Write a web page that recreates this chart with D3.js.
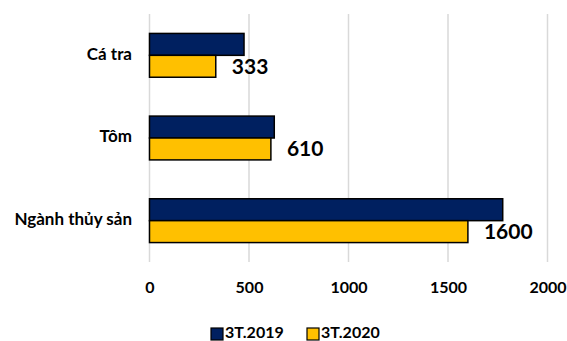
<!DOCTYPE html>
<html><head><meta charset="utf-8">
<script src="https://cdn.jsdelivr.net/npm/d3@7"></script>
<style>body{margin:0;background:#fff}svg{display:block;font-family:Lato,"Open Sans",sans-serif;font-weight:bold}</style>
</head><body><svg id="c" width="567" height="341"></svg>
<script>
const categories = ["Cá tra", "Tôm", "Ngành thủy sản"];
const seriesNames = ["3T.2019", "3T.2020"];
const values2019 = [475, 627, 1775];
const values2020 = [333, 610, 1600];
const dataLabels = ["333", "610", "1600"];
const xTicks = [0, 500, 1000, 1500, 2000];
const colors = ["#002060", "#FFC000"];

const svg = d3.select("#c");
const x = d3.scaleLinear().domain([0, 2000]).range([149.5, 547.5]);
const y = d3.scaleBand().domain(categories).range([14, 262]).paddingInner(0.47).paddingOuter(0.235);
const sub = d3.scaleBand().domain(seriesNames).range([0, y.bandwidth()]);

// gridlines
svg.append("g").selectAll("line").data(xTicks).join("line")
  .attr("x1", d => x(d)).attr("x2", d => x(d)).attr("y1", 14).attr("y2", 262)
  .attr("stroke", "#d9d9d9").attr("stroke-width", 1.5);

// bars
const series = [values2019, values2020];
series.forEach((vals, si) => {
  svg.append("g").selectAll("rect").data(categories).join("rect")
    .attr("x", x(0)).attr("y", (c) => y(c) + sub(seriesNames[si]))
    .attr("width", (c, i) => x(vals[i]) - x(0))
    .attr("height", sub.bandwidth())
    .attr("fill", colors[si]).attr("stroke", "#000").attr("stroke-width", 1.5);
});

// data labels
svg.append("g").selectAll("text").data(categories).join("text")
  .attr("x", (c, i) => x(values2020[i]) + 16)
  .attr("y", c => y(c) + sub("3T.2020") + sub.bandwidth() / 2 + 2)
  .attr("dominant-baseline", "middle")
  .attr("font-size", 21).attr("fill", "#000")
  .text((c, i) => dataLabels[i]);

// category axis labels
svg.append("g").selectAll("text").data(categories).join("text")
  .attr("x", 132).attr("y", c => y(c) + y.bandwidth() / 2)
  .attr("text-anchor", "end").attr("dominant-baseline", "middle")
  .attr("font-size", 17).attr("fill", "#000").text(c => c);

// x axis tick labels
const xAxis = d3.axisBottom(x).tickValues(xTicks).tickSize(0).tickPadding(0).tickFormat(d3.format("d"));
const gx = svg.append("g").attr("transform", "translate(0,282)").call(xAxis);
gx.select(".domain").remove();
gx.selectAll("text").attr("font-size", 16).attr("font-family", "Lato,'Open Sans',sans-serif").attr("font-weight", "bold").attr("fill", "#000");

// legend
const legX = [211, 307];
const leg = svg.append("g").selectAll("g").data(seriesNames).join("g")
  .attr("transform", (d, i) => `translate(${legX[i]},334)`);
leg.append("rect").attr("x", 0).attr("y", -6).attr("width", 12).attr("height", 12)
  .attr("fill", (d, i) => colors[i]).attr("stroke", "#000").attr("stroke-width", 1.2);
leg.append("text").attr("x", 14).attr("y", 0).attr("dominant-baseline", "middle")
  .attr("font-size", 16).attr("fill", "#000").text(d => d);
</script></body></html>
